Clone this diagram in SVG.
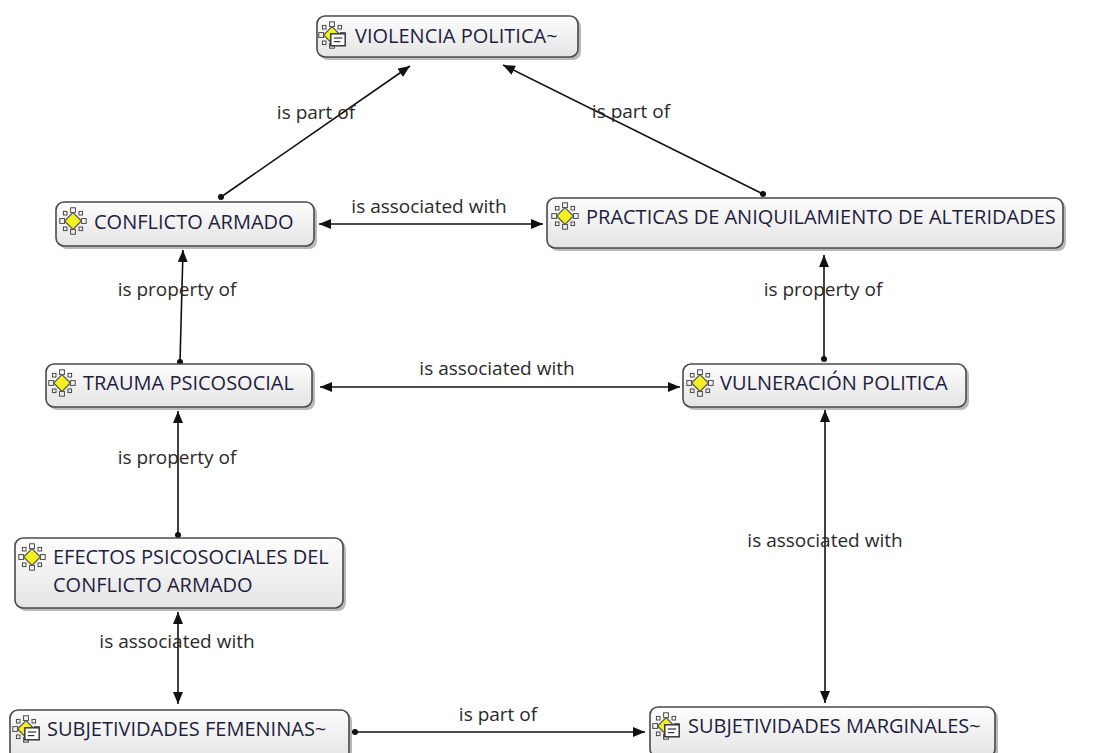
<svg xmlns="http://www.w3.org/2000/svg" width="1095" height="753" viewBox="0 0 1095 753">
<style>
.box{fill:url(#g);stroke:#4a4a4a;stroke-width:1.6}
.sh{fill:#8a8a8a;opacity:0.6}
.nt{font-family:"Open Sans","Noto Sans",sans-serif;font-size:20px;fill:#1e1e40}
.lb{font-family:"Open Sans","Noto Sans",sans-serif;font-size:19px;fill:#2a2a2a;text-anchor:middle}
.ln{stroke:#111;stroke-width:1.6;fill:none}
</style>
<defs>
<linearGradient id="g" x1="0" y1="0" x2="0" y2="1">
<stop offset="0" stop-color="#fdfdfd"/>
<stop offset="1" stop-color="#e4e4e4"/>
</linearGradient>
<marker id="a" viewBox="0 0 12 10" refX="12" refY="5" markerWidth="12" markerHeight="10" markerUnits="userSpaceOnUse" orient="auto-start-reverse">
<path d="M0,0 L12,5 L0,10 Z" fill="#111"/>
</marker>
<marker id="d" viewBox="0 0 8 8" refX="4" refY="4" markerWidth="7" markerHeight="7" markerUnits="userSpaceOnUse">
<circle cx="4" cy="4" r="3.5" fill="#111"/>
</marker>
<g id="ic0">
<rect x="-2" y="-11" width="4" height="4" fill="none" stroke="#444" stroke-width="0.8"/>
<rect x="-2" y="7" width="4" height="4" fill="none" stroke="#444" stroke-width="0.8"/>
<rect x="-11" y="-2" width="4" height="4" fill="none" stroke="#444" stroke-width="0.8"/>
<rect x="7" y="-2" width="4" height="4" fill="none" stroke="#444" stroke-width="0.8"/>
<rect x="-8" y="-8" width="3" height="3" fill="none" stroke="#444" stroke-width="0.8"/>
<rect x="5" y="-8" width="3" height="3" fill="none" stroke="#444" stroke-width="0.8"/>
<rect x="-8" y="5" width="3" height="3" fill="none" stroke="#444" stroke-width="0.8"/>
<rect x="5" y="5" width="3" height="3" fill="none" stroke="#444" stroke-width="0.8"/>
<path d="M0,-7 L7,0 L0,7 L-7,0 Z" fill="#f2f020" stroke="#555" stroke-width="1"/>
</g>
<g id="ic"><use href="#ic0" transform="scale(1.2)"/></g>
<g id="im" transform="scale(1.2)">
<use href="#ic0"/>
<rect x="-1" y="-1" width="12" height="10" fill="#fff" stroke="#333" stroke-width="1.2"/>
<line x1="1.5" y1="2.5" x2="8.5" y2="2.5" stroke="#333"/>
<line x1="1.5" y1="5.5" x2="7" y2="5.5" stroke="#333"/>
</g>
</defs>
<rect width="1095" height="753" fill="#fff"/>

<g id="connectors">
<line class="ln" x1="221" y1="197" x2="410" y2="66" marker-start="url(#d)" marker-end="url(#a)"/>
<text class="lb" x="316" y="119">is part of</text>
<line class="ln" x1="763" y1="194" x2="503" y2="65" marker-start="url(#d)" marker-end="url(#a)"/>
<text class="lb" x="631" y="118">is part of</text>
<line class="ln" x1="319" y1="224" x2="543" y2="224" marker-start="url(#a)" marker-end="url(#a)"/>
<text class="lb" x="429" y="213">is associated with</text>
<line class="ln" x1="180" y1="362" x2="183" y2="250" marker-start="url(#d)" marker-end="url(#a)"/>
<text class="lb" x="177" y="296">is property of</text>
<line class="ln" x1="824" y1="359" x2="824" y2="255" marker-start="url(#d)" marker-end="url(#a)"/>
<text class="lb" x="823" y="296">is property of</text>
<line class="ln" x1="320" y1="387" x2="680" y2="387" marker-start="url(#a)" marker-end="url(#a)"/>
<text class="lb" x="497" y="375">is associated with</text>
<line class="ln" x1="178" y1="535" x2="178" y2="411" marker-start="url(#d)" marker-end="url(#a)"/>
<text class="lb" x="177" y="464">is property of</text>
<line class="ln" x1="178" y1="612" x2="178" y2="704" marker-start="url(#a)" marker-end="url(#a)"/>
<text class="lb" x="177" y="648">is associated with</text>
<line class="ln" x1="825" y1="410" x2="825" y2="703" marker-start="url(#a)" marker-end="url(#a)"/>
<text class="lb" x="825" y="547">is associated with</text>
<line class="ln" x1="355" y1="732" x2="645" y2="732" marker-start="url(#d)" marker-end="url(#a)"/>
<text class="lb" x="498" y="721">is part of</text>
</g>

<g id="n-violencia">
<rect class="sh" x="320" y="19" width="261" height="41" rx="8"/>
<rect class="box" x="317" y="16" width="261" height="41" rx="8"/>
<use href="#im" x="332" y="35"/>
<text class="nt" x="355" y="43">VIOLENCIA POLITICA~</text>
</g>
<g id="n-conflicto">
<rect class="sh" x="59" y="205" width="258" height="44" rx="8"/>
<rect class="box" x="56" y="202" width="258" height="44" rx="8"/>
<use href="#ic" x="73" y="221"/>
<text class="nt" x="94" y="229">CONFLICTO ARMADO</text>
</g>
<g id="n-practicas">
<rect class="sh" x="550" y="201" width="516" height="50" rx="8"/>
<rect class="box" x="547" y="198" width="516" height="50" rx="8"/>
<use href="#ic" x="565" y="216"/>
<text class="nt" x="586" y="224">PRACTICAS DE ANIQUILAMIENTO DE ALTERIDADES</text>
</g>
<g id="n-trauma">
<rect class="sh" x="49" y="367" width="266" height="43" rx="8"/>
<rect class="box" x="46" y="364" width="266" height="43" rx="8"/>
<use href="#ic" x="62" y="383"/>
<text class="nt" x="83" y="390">TRAUMA PSICOSOCIAL</text>
</g>
<g id="n-vulneracion">
<rect class="sh" x="686" y="367" width="283" height="43" rx="8"/>
<rect class="box" x="683" y="364" width="283" height="43" rx="8"/>
<use href="#ic" x="700" y="383"/>
<text class="nt" x="720" y="390">VULNERACIÓN POLITICA</text>
</g>
<g id="n-efectos">
<rect class="sh" x="18" y="541" width="328" height="70" rx="8"/>
<rect class="box" x="15" y="538" width="328" height="70" rx="8"/>
<use href="#ic" x="32" y="557"/>
<text class="nt" x="53" y="564">EFECTOS PSICOSOCIALES DEL</text>
<text class="nt" x="53" y="592">CONFLICTO ARMADO</text>
</g>
<g id="n-femeninas">
<rect class="sh" x="13" y="713" width="339" height="50" rx="8"/>
<rect class="box" x="10" y="710" width="339" height="50" rx="8"/>
<use href="#im" x="26" y="729"/>
<text class="nt" x="47" y="736">SUBJETIVIDADES FEMENINAS~</text>
</g>
<g id="n-marginales">
<rect class="sh" x="653" y="710" width="345" height="50" rx="8"/>
<rect class="box" x="650" y="707" width="345" height="50" rx="8"/>
<use href="#im" x="666" y="726"/>
<text class="nt" x="688" y="733">SUBJETIVIDADES MARGINALES~</text>
</g>
</svg>
